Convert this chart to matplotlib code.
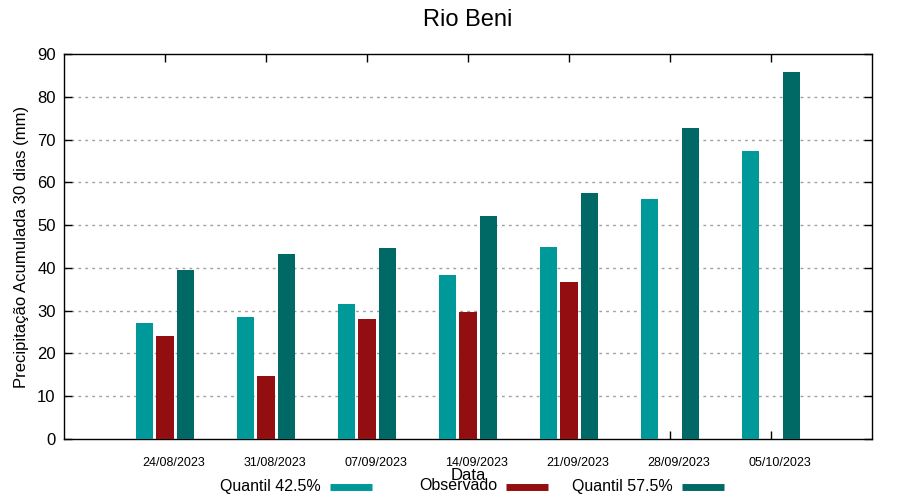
import numpy as np
import matplotlib
matplotlib.use("Agg")
import matplotlib.pyplot as plt
from matplotlib.lines import Line2D
import matplotlib.transforms as mtransforms

plt.rcParams['font.family'] = ['Liberation Sans', 'DejaVu Sans']

dates = ["24/08/2023", "31/08/2023", "07/09/2023", "14/09/2023",
         "21/09/2023", "28/09/2023", "05/10/2023"]
q425 = [27.1, 28.5, 31.6, 38.3, 44.9, 56.1, 67.3]
observado = [24.1, 14.7, 28.0, 29.7, 36.7, np.nan, np.nan]
q575 = [39.5, 43.2, 44.6, 52.1, 57.5, 72.7, 85.8]
series_labels = ["Quantil 42.5%", "Observado", "Quantil 57.5%"]

c_q425 = "#009999"
c_obs = "#930e10"
c_q575 = "#006966"
colors = [c_q425, c_obs, c_q575]

fig = plt.figure(figsize=(9, 5), dpi=100)
ax = fig.add_axes([64/900, 61/500, (872-64)/900, (439-54)/500])

x = np.arange(len(dates))
w = 0.165
ax.bar(x - 0.2, q425, width=w, color=c_q425, zorder=3)
ax.bar(x, observado, width=w + 0.005, color=c_obs, zorder=3)
ax.bar(x + 0.2, q575, width=w, color=c_q575, zorder=3)

ax.set_xlim(-1, 7)
ax.set_ylim(0, 90)
ax.set_yticks(np.arange(0, 91, 10))
ax.set_xticks(x)
ax.set_xticklabels(dates, fontsize=9)
ax.tick_params(axis='y', labelsize=12, direction='in', length=6, right=True, width=1, pad=6)
ax.tick_params(axis='x', direction='in', length=6, top=True, width=1, pad=13)
offset = mtransforms.ScaledTranslation(9/100, 0, fig.dpi_scale_trans)
for lbl in ax.get_xticklabels():
    lbl.set_transform(lbl.get_transform() + offset)

for yv in range(10, 90, 10):
    ax.axhline(yv, color="#a0a0a0", lw=1, ls=(0, (2, 3)), zorder=1)
for s in ax.spines.values():
    s.set_linewidth(1)

ax.set_ylabel("Precipitação Acumulada 30 dias (mm)", fontsize=12, labelpad=6)
fig.text(468/900, 1 - 475/500, "Data", ha='center', va='center', fontsize=12)
fig.text(468/900, 1 - 20/500, "Rio Beni", ha='center', va='center', fontsize=17)

# gnuplot-style legend: text right-aligned, sample to its right
text_right = [321, 497, 673]
for lab, col, xr in zip(series_labels, colors, text_right):
    fig.text(xr/900, 1 - 486/500, lab, ha='right', va='center', fontsize=11.5)
    fig.add_artist(Line2D([(xr + 9)/900, (xr + 51)/900], [1 - 487/500, 1 - 487/500],
                          color=col, lw=5, solid_capstyle='butt',
                          transform=fig.transFigure))

fig.savefig("out.png", dpi=100)
